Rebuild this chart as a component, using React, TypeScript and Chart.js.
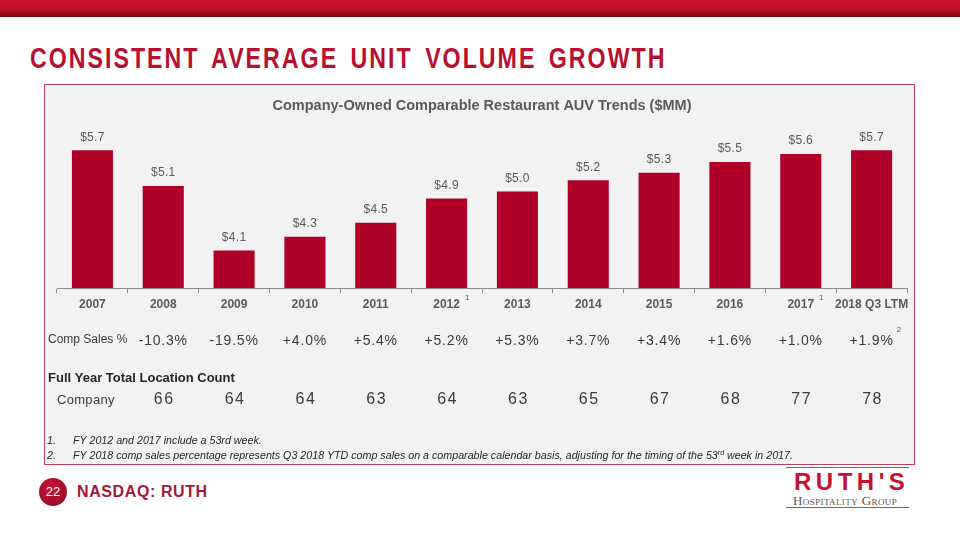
import React, { useEffect, useRef } from "react";
import { Chart, registerables } from "chart.js";

Chart.register(...registerables);

// ---------- data ----------
const categories = ["2007", "2008", "2009", "2010", "2011", "2012", "2013", "2014", "2015", "2016", "2017", "2018 Q3 LTM"];
const auvValues = [5.7, 5.13, 4.1, 4.32, 4.54, 4.93, 5.04, 5.22, 5.34, 5.51, 5.64, 5.7];
const categoryNotes = ["", "", "", "", "", "1", "", "", "", "", "1", ""];
const compSales: (number | null)[] = [null, -10.3, -19.5, 4.0, 5.4, 5.2, 5.3, 3.7, 3.4, 1.6, 1.0, 1.9];
const compSalesNotes = ["", "", "", "", "", "", "", "", "", "", "", "2"];
const locationCounts: (number | null)[] = [null, 66, 64, 64, 63, 64, 63, 65, 67, 68, 77, 78];
const yAxisMin = 3.5;
const yAxisMax = 6.0;

const chartTitle = "Company-Owned Comparable Restaurant AUV Trends ($MM)";
const compSalesLabel = "Comp Sales %";
const locationHeader = "Full Year Total Location Count";
const locationRowLabel = "Company";
const footnotes = [
  "FY 2012 and 2017 include a 53rd week.",
  "FY 2018 comp sales percentage represents Q3 2018 YTD comp sales on a comparable calendar basis, adjusting for the timing of the 53",
];

const SANS = "'Liberation Sans', Arial, sans-serif";
const GRAY = "#595959";
const TEXT = "#3a3a3a";
const BAR = "#b00027";

const overlayPlugin = {
  id: "overlay",
  afterDatasetsDraw(chart: any) {
    const ctx = chart.ctx as CanvasRenderingContext2D;
    const meta = chart.getDatasetMeta(0);
    ctx.save();
    ctx.font = `12px ${SANS}`;
    (ctx as any).letterSpacing = "0.3px";
    ctx.fillStyle = GRAY;
    ctx.textAlign = "center";
    ctx.textBaseline = "middle";
    meta.data.forEach((bar: any, i: number) => {
      ctx.fillText("$" + auvValues[i].toFixed(1), bar.x, bar.y - 13);
    });
    ctx.restore();
  },
  afterDraw(chart: any) {
    const ctx = chart.ctx as CanvasRenderingContext2D;
    const xs = chart.scales.x;
    ctx.save();
    ctx.textBaseline = "middle";

    // superscripts on axis labels
    const labelMid = xs.top + 5 + 4 + 7;
    categories.forEach((c, i) => {
      if (!categoryNotes[i]) return;
      const cx = xs.getPixelForValue(i);
      ctx.font = `bold 12px ${SANS}`;
      const w = ctx.measureText(c).width;
      ctx.font = `8px ${SANS}`;
      ctx.fillStyle = GRAY;
      ctx.textAlign = "left";
      ctx.fillText(categoryNotes[i], cx + w / 2 + 5, labelMid - 6);
    });

    // comp sales row
    const compY = 256;
    ctx.textAlign = "left";
    ctx.fillStyle = TEXT;
    ctx.font = `12px ${SANS}`;
    (ctx as any).letterSpacing = "0px";
    ctx.fillText(compSalesLabel, 3, compY - 1);
    compSales.forEach((v, i) => {
      if (v === null) return;
      const cx = xs.getPixelForValue(i);
      const txt = (v > 0 ? "+" : "") + v.toFixed(1) + "%";
      ctx.font = `14px ${SANS}`;
      (ctx as any).letterSpacing = "0.8px";
      ctx.textAlign = "center";
      ctx.fillStyle = TEXT;
      ctx.fillText(txt, cx, compY);
      if (compSalesNotes[i]) {
        const w = ctx.measureText(txt).width;
        ctx.font = `8px ${SANS}`;
        (ctx as any).letterSpacing = "0px";
        ctx.textAlign = "left";
        ctx.fillStyle = GRAY;
        ctx.fillText(compSalesNotes[i], cx + w / 2 + 3, compY - 11);
      }
    });

    // location count
    (ctx as any).letterSpacing = "0px";
    ctx.textAlign = "left";
    ctx.fillStyle = "#262626";
    ctx.font = `bold 13px ${SANS}`;
    ctx.fillText(locationHeader, 3, 293);
    ctx.font = `13px ${SANS}`;
    ctx.fillStyle = TEXT;
    (ctx as any).letterSpacing = "0.3px";
    ctx.fillText(locationRowLabel, 12, 315);
    locationCounts.forEach((v, i) => {
      if (v === null) return;
      const cx = xs.getPixelForValue(i);
      ctx.font = `16px ${SANS}`;
      (ctx as any).letterSpacing = "1.5px";
      ctx.textAlign = "center";
      ctx.fillText(String(v), cx + 1, 315);
    });
    ctx.restore();
  },
};

function AuvChart() {
  const ref = useRef<HTMLCanvasElement | null>(null);
  useEffect(() => {
    if (!ref.current) return;
    const chart = new Chart(ref.current, {
      type: "bar",
      data: {
        labels: categories,
        datasets: [
          {
            data: auvValues,
            backgroundColor: BAR,
            borderWidth: 0,
            barPercentage: 0.58,
            categoryPercentage: 1,
          },
        ],
      },
      options: {
        responsive: false,
        animation: false,
        devicePixelRatio: 1,
        layout: { padding: { left: 12, right: 7, top: 0, bottom: 147.6 } },
        plugins: {
          legend: { display: false },
          tooltip: { enabled: false },
          title: {
            display: true,
            text: chartTitle,
            color: GRAY,
            font: { family: SANS, size: 14.5, weight: "bold" },
            padding: { top: 12, bottom: 17 },
          },
        },
        scales: {
          x: {
            grid: {
              display: true,
              drawOnChartArea: false,
              drawTicks: true,
              tickLength: 5,
              color: "#8c8c8c",
              offset: true,
            },
            border: { display: true, color: "#8c8c8c", width: 1 },
            ticks: {
              color: GRAY,
              font: { family: SANS, size: 12, weight: "bold" },
              padding: 4,
              autoSkip: false,
              maxRotation: 0,
            },
          },
          y: { display: false, min: yAxisMin, max: yAxisMax },
        },
      },
      plugins: [overlayPlugin],
    });
    return () => chart.destroy();
  }, []);
  return <canvas ref={ref} width={869} height={378} style={{ display: "block" }} />;
}

export default function App() {
  const abs = (s: React.CSSProperties): React.CSSProperties => ({ position: "absolute", ...s });
  return (
    <div style={{ position: "fixed", left: 0, top: 0, width: 960, height: 540, background: "#ffffff", overflow: "hidden", fontFamily: SANS }}>
      <div style={abs({ left: 0, top: 0, width: 960, height: 17, background: "linear-gradient(to bottom, #cb1030 0%, #c30f2c 55%, #7a0a18 100%)" })} />
      <div
        style={abs({
          left: 30,
          top: 43.5,
          fontFamily: SANS,
          fontWeight: "bold",
          fontSize: 29,
          lineHeight: 1,
          letterSpacing: 2.5,
          wordSpacing: 5,
          color: "#b7102f",
          whiteSpace: "nowrap",
          transform: "scaleX(0.8)",
          transformOrigin: "0 0",
        })}
      >
        CONSISTENT AVERAGE UNIT VOLUME GROWTH
      </div>
      <div style={abs({ left: 44, top: 84, width: 871, height: 381, boxSizing: "border-box", border: "1px solid #b8405c", background: "#f2f2f2" })}>
        <AuvChart />
      </div>
      <div style={abs({ left: 47, top: 433, fontSize: 10.7, fontStyle: "italic", color: "#262626", lineHeight: "15px", whiteSpace: "nowrap" })}>
        <div style={{ position: "relative", height: 15 }}>
          <span>1.</span>
          <span style={{ position: "absolute", left: 26 }}>{footnotes[0]}</span>
        </div>
        <div style={{ position: "relative", height: 15 }}>
          <span>2.</span>
          <span style={{ position: "absolute", left: 26 }}>
            {footnotes[1]}
            <span style={{ fontSize: 7, position: "relative", top: -4 }}>rd</span> week in 2017.
          </span>
        </div>
      </div>
      <div
        style={abs({
          left: 39,
          top: 478,
          width: 28,
          height: 28,
          borderRadius: 14,
          background: "radial-gradient(circle at 40% 30%, #c41234 0%, #a50f2b 60%, #7e0a1f 100%)",
          color: "#fff",
          fontSize: 13,
          lineHeight: "28px",
          textAlign: "center",
        })}
      >
        22
      </div>
      <div style={abs({ left: 77, top: 483, fontSize: 16, fontWeight: "bold", color: "#a5173a", letterSpacing: 0.6, lineHeight: "18px", whiteSpace: "nowrap" })}>
        NASDAQ: RUTH
      </div>
      <div style={abs({ left: 786, top: 467, width: 123, height: 1, background: "#6b6b6b" })} />
      <div style={abs({ left: 794, top: 469.5, fontSize: 24, fontWeight: "bold", color: "#c8102e", letterSpacing: 4.5, lineHeight: 1, whiteSpace: "nowrap" })}>
        RUTH'S
      </div>
      <div
        style={abs({
          left: 793,
          top: 493.5,
          fontFamily: "'Liberation Serif', serif",
          fontSize: 13,
          fontVariant: "small-caps",
          letterSpacing: 0.4,
          color: "#555555",
          lineHeight: "14px",
          whiteSpace: "nowrap",
        })}
      >
        Hospitality Group
      </div>
      <div style={abs({ left: 786, top: 507, width: 123, height: 1, background: "#6b6b6b" })} />
    </div>
  );
}
